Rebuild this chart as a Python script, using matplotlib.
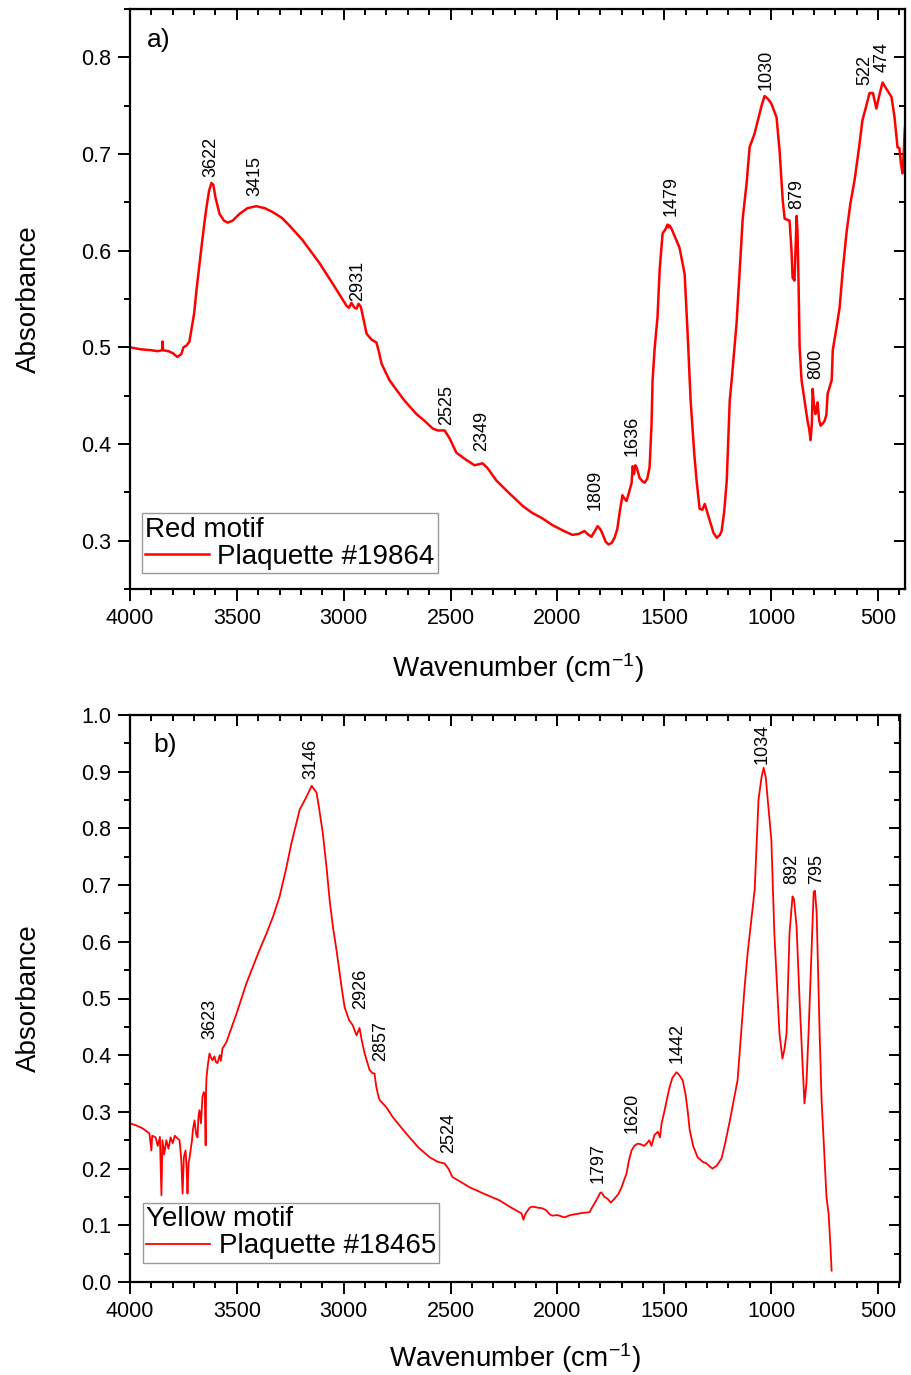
import matplotlib
matplotlib.use("Agg")
import matplotlib.pyplot as plt
from matplotlib.ticker import MultipleLocator, NullFormatter

plt.rcParams['font.family'] = ['Liberation Sans', 'DejaVu Sans']
plt.rcParams['mathtext.fontset'] = 'custom'
plt.rcParams['mathtext.rm'] = 'Liberation Sans'
plt.rcParams['mathtext.it'] = 'Liberation Sans'
plt.rcParams['mathtext.default'] = 'regular'

# ---------------- Data: panel a (Red motif, Plaquette #19864) ----------------
wn_a = [4000, 3950, 3900, 3870, 3850, 3848, 3845, 3820, 3800, 3778, 3760, 3750, 3735, 3722,
        3700, 3689, 3666, 3650, 3642, 3630, 3619, 3610, 3600, 3581, 3560, 3543, 3520, 3488,
        3450, 3409, 3370, 3333, 3290, 3254, 3193, 3150, 3113, 3052, 2987, 2975, 2964, 2950,
        2940, 2931, 2920, 2893, 2870, 2847, 2835, 2823, 2786, 2750, 2716, 2660, 2622, 2584,
        2560, 2528, 2505, 2473, 2430, 2388, 2350, 2327, 2285, 2230, 2163, 2120, 2070, 2023,
        1970, 1930, 1900, 1874, 1860, 1841, 1825, 1812, 1800, 1789, 1775, 1761, 1745, 1733,
        1720, 1710, 1696, 1688, 1677, 1665, 1653, 1648, 1642, 1636, 1630, 1616, 1600, 1592,
        1580, 1569, 1560, 1555, 1545, 1532, 1522, 1508, 1495, 1485, 1479, 1475, 1465, 1450,
        1429, 1405, 1391, 1381, 1377, 1360, 1349, 1335, 1322, 1311, 1300, 1288, 1270, 1255,
        1240, 1232, 1220, 1208, 1194, 1185, 1162, 1133, 1115, 1101, 1078, 1060, 1045, 1031,
        1015, 999, 975, 961, 946, 937, 925, 914, 905, 900, 891, 885, 881, 877, 872, 867, 858,
        844, 830, 822, 816, 810, 806, 800, 793, 788, 783, 776, 769, 760, 750, 742, 736, 717,
        712, 694, 680, 665, 648, 630, 610, 590, 573, 555, 540, 524, 516, 508, 495, 479, 460,
        437, 423, 409, 400, 393, 386, 380, 376, 370]
abs_a = [0.500, 0.498, 0.497, 0.496, 0.497, 0.506, 0.497, 0.496, 0.494, 0.490, 0.493, 0.500,
         0.502, 0.506, 0.535, 0.559, 0.603, 0.632, 0.645, 0.662, 0.670, 0.668, 0.655, 0.638,
         0.631, 0.629, 0.631, 0.638, 0.644, 0.646, 0.644, 0.640, 0.634, 0.626, 0.611, 0.598,
         0.587, 0.566, 0.543, 0.541, 0.546, 0.541, 0.540, 0.545, 0.542, 0.514, 0.508, 0.505,
         0.495, 0.483, 0.466, 0.455, 0.445, 0.431, 0.424, 0.416, 0.414, 0.414, 0.406, 0.391,
         0.384, 0.378, 0.380, 0.375, 0.362, 0.350, 0.336, 0.329, 0.323, 0.316, 0.310, 0.306,
         0.307, 0.310, 0.307, 0.304, 0.310, 0.315, 0.312, 0.307, 0.299, 0.296, 0.298, 0.303,
         0.312, 0.328, 0.347, 0.344, 0.341, 0.350, 0.360, 0.377, 0.369, 0.378, 0.376, 0.365,
         0.361, 0.360, 0.364, 0.376, 0.420, 0.466, 0.500, 0.531, 0.580, 0.618, 0.622, 0.627,
         0.624, 0.626, 0.622, 0.614, 0.603, 0.576, 0.514, 0.466, 0.445, 0.390, 0.362, 0.333,
         0.332, 0.338, 0.330, 0.321, 0.308, 0.303, 0.306, 0.310, 0.330, 0.362, 0.445, 0.466,
         0.525, 0.634, 0.670, 0.707, 0.721, 0.737, 0.750, 0.760, 0.757, 0.752, 0.738, 0.704,
         0.652, 0.633, 0.632, 0.631, 0.600, 0.572, 0.569, 0.610, 0.636, 0.620, 0.566, 0.500,
         0.466, 0.445, 0.424, 0.415, 0.404, 0.420, 0.457, 0.440, 0.431, 0.438, 0.443, 0.425,
         0.419, 0.421, 0.424, 0.430, 0.452, 0.466, 0.497, 0.521, 0.541, 0.580, 0.618, 0.648,
         0.673, 0.705, 0.735, 0.750, 0.763, 0.763, 0.755, 0.747, 0.760, 0.774, 0.767, 0.759,
         0.738, 0.707, 0.706, 0.690, 0.680, 0.700, 0.721, 0.740]

peaks_a = ["3622", "3415", "2931", "2525", "2349", "1809", "1636", "1479", "1030", "879", "800", "522", "474"]
peak_x_a = [3622, 3417, 2935, 2519, 2355, 1826, 1653, 1466, 1022, 881, 792, 563, 479]
peak_y_a = [0.676, 0.657, 0.548, 0.420, 0.393, 0.332, 0.388, 0.636, 0.766, 0.643, 0.467, 0.771, 0.785]

# ---------------- Data: panel b (Yellow motif, Plaquette #18465) ----------------
wn_b = [4000, 3970, 3941, 3920, 3909, 3900, 3896, 3880, 3870, 3860, 3853, 3848, 3840, 3830,
        3820, 3810, 3800, 3790, 3783, 3768, 3760, 3754, 3748, 3740, 3735, 3731, 3726, 3721,
        3710, 3705, 3698, 3690, 3684, 3680, 3675, 3668, 3661, 3655, 3650, 3646, 3644, 3642,
        3635, 3628, 3620, 3614, 3605, 3598, 3591, 3580, 3575, 3567, 3549, 3500, 3455, 3400,
        3361, 3330, 3300, 3270, 3244, 3206, 3174, 3150, 3127, 3115, 3098, 3080, 3066, 3050,
        3034, 3010, 2996, 2975, 2958, 2940, 2926, 2915, 2902, 2879, 2865, 2856, 2848, 2841,
        2832, 2800, 2771, 2730, 2692, 2650, 2598, 2560, 2528, 2510, 2491, 2450, 2411, 2340,
        2271, 2220, 2168, 2159, 2150, 2130, 2117, 2090, 2070, 2051, 2035, 2023, 2000, 1967,
        1940, 1911, 1880, 1850, 1840, 1818, 1800, 1794, 1780, 1766, 1750, 1733, 1715, 1700,
        1677, 1665, 1653, 1640, 1625, 1610, 1595, 1583, 1570, 1560, 1546, 1530, 1520, 1513,
        1500, 1489, 1475, 1462, 1443, 1430, 1414, 1400, 1390, 1381, 1365, 1344, 1320, 1302,
        1285, 1274, 1255, 1232, 1215, 1194, 1175, 1157, 1140, 1124, 1110, 1091, 1077, 1068,
        1059, 1045, 1035, 1025, 1016, 999, 985, 961, 947, 938, 928, 914, 900, 893, 881, 867,
        855, 844, 835, 825, 811, 801, 795, 787, 773, 764, 759, 741, 731, 722, 717]
abs_b = [0.280, 0.276, 0.271, 0.265, 0.262, 0.232, 0.258, 0.255, 0.240, 0.256, 0.153, 0.250,
         0.225, 0.250, 0.235, 0.255, 0.245, 0.258, 0.255, 0.250, 0.215, 0.156, 0.220, 0.232,
         0.200, 0.156, 0.210, 0.220, 0.250, 0.270, 0.285, 0.260, 0.255, 0.290, 0.303, 0.280,
         0.326, 0.335, 0.330, 0.241, 0.340, 0.361, 0.385, 0.403, 0.395, 0.391, 0.398, 0.388,
         0.386, 0.400, 0.390, 0.412, 0.423, 0.475, 0.527, 0.580, 0.615, 0.645, 0.680, 0.728,
         0.775, 0.833, 0.856, 0.875, 0.863, 0.835, 0.792, 0.730, 0.674, 0.625, 0.586, 0.520,
         0.485, 0.462, 0.453, 0.435, 0.448, 0.425, 0.403, 0.374, 0.368, 0.368, 0.345, 0.333,
         0.321, 0.308, 0.291, 0.272, 0.255, 0.237, 0.220, 0.212, 0.209, 0.200, 0.185, 0.176,
         0.167, 0.155, 0.144, 0.132, 0.121, 0.110, 0.120, 0.131, 0.133, 0.131, 0.130, 0.126,
         0.119, 0.117, 0.118, 0.114, 0.118, 0.120, 0.122, 0.123, 0.130, 0.144, 0.157, 0.158,
         0.150, 0.147, 0.140, 0.147, 0.155, 0.167, 0.191, 0.215, 0.232, 0.240, 0.244, 0.243,
         0.240, 0.244, 0.250, 0.240, 0.259, 0.265, 0.255, 0.279, 0.300, 0.320, 0.344, 0.360,
         0.370, 0.365, 0.356, 0.330, 0.300, 0.268, 0.240, 0.220, 0.212, 0.209, 0.203, 0.200,
         0.205, 0.218, 0.245, 0.283, 0.320, 0.356, 0.440, 0.521, 0.580, 0.644, 0.692, 0.770,
         0.851, 0.890, 0.907, 0.890, 0.851, 0.780, 0.615, 0.438, 0.394, 0.410, 0.438, 0.615,
         0.680, 0.675, 0.627, 0.498, 0.400, 0.315, 0.350, 0.438, 0.586, 0.688, 0.690, 0.651,
         0.438, 0.321, 0.285, 0.150, 0.120, 0.060, 0.020]

peaks_b = ["3623", "3146", "2926", "2857", "2524", "1797", "1620", "1442", "1034", "892", "795"]
peak_x_b = [3628, 3155, 2921, 2828, 2510, 1808, 1649, 1442, 1040, 905, 787]
peak_y_b = [0.428, 0.887, 0.481, 0.389, 0.227, 0.174, 0.262, 0.386, 0.914, 0.702, 0.702]

RED = '#ff0000'

fig = plt.figure(figsize=(9.11, 13.75), dpi=100)
W, H = 911, 1375


def make_axes(px_left, px_right, py_top, py_bottom):
    return fig.add_axes([px_left / W, 1 - py_bottom / H,
                         (px_right - px_left) / W, (py_bottom - py_top) / H])


def style_axes(ax, xlim, ylim, ymajor, yminor):
    ax.set_xlim(*xlim)
    ax.set_ylim(*ylim)
    ax.xaxis.set_major_locator(MultipleLocator(500))
    ax.xaxis.set_minor_locator(MultipleLocator(100))
    ax.yaxis.set_major_locator(MultipleLocator(ymajor))
    ax.yaxis.set_minor_locator(MultipleLocator(yminor))
    for s in ax.spines.values():
        s.set_linewidth(1.6)
    ax.tick_params(which='major', direction='out', length=8.5, width=1.4, labelsize=15.5, pad=5)
    ax.tick_params(which='minor', direction='out', length=4.5, width=1.4)
    # inward ticks on top and right
    sx = ax.secondary_xaxis('top')
    sx.xaxis.set_major_locator(MultipleLocator(500))
    sx.xaxis.set_minor_locator(MultipleLocator(100))
    sx.xaxis.set_major_formatter(NullFormatter())
    sx.tick_params(which='major', direction='in', length=8, width=1.4)
    sx.tick_params(which='minor', direction='in', length=4.5, width=1.4)
    sy = ax.secondary_yaxis('right')
    sy.yaxis.set_major_locator(MultipleLocator(ymajor))
    sy.yaxis.set_minor_locator(MultipleLocator(yminor))
    sy.yaxis.set_major_formatter(NullFormatter())
    sy.tick_params(which='major', direction='in', length=8, width=1.4)
    sy.tick_params(which='minor', direction='in', length=4.5, width=1.4)
    ax.set_xlabel('Wavenumber (cm$^{-1}$)', fontsize=20)
    ax.set_ylabel('Absorbance', fontsize=20)


def yfmt(v, pos):
    return f'{v:.1f}'


LEG_KW = dict(loc='lower left', fontsize=20, title_fontsize=20, frameon=True,
              fancybox=False, edgecolor='#808080', borderpad=0.12, labelspacing=0.05,
              handlelength=2.3, handletextpad=0.3, borderaxespad=0, alignment='left')

# ---------------- Panel a ----------------
ax1 = make_axes(130, 905, 9, 589)
ax1.plot(wn_a, abs_a, color=RED, lw=1.8, label='Plaquette #19864')
style_axes(ax1, (4000, 374), (0.25, 0.85), 0.1, 0.05)
ax1.yaxis.set_major_formatter(plt.FuncFormatter(yfmt))
ax1.xaxis.set_label_coords(0.5, -0.107)
ax1.yaxis.set_label_coords(-0.113, 0.5)
for t, x, y in zip(peaks_a, peak_x_a, peak_y_a):
    ax1.text(x, y, t, rotation=90, ha='center', va='bottom', fontsize=13)
ax1.text(0.022, 0.968, 'a)', transform=ax1.transAxes, ha='left', va='top', fontsize=19)
leg1 = ax1.legend(title='Red motif', bbox_to_anchor=(0.015, 0.027), **LEG_KW)
leg1.get_frame().set_linewidth(1.0)

# ---------------- Panel b ----------------
ax2 = make_axes(130, 900, 715, 1282)
ax2.plot(wn_b, abs_b, color=RED, lw=1.3, label='Plaquette #18465')
style_axes(ax2, (4000, 397), (0.0, 1.0), 0.1, 0.05)
ax2.yaxis.set_major_formatter(plt.FuncFormatter(yfmt))
ax2.xaxis.set_label_coords(0.5, -0.104)
ax2.yaxis.set_label_coords(-0.115, 0.5)
for t, x, y in zip(peaks_b, peak_x_b, peak_y_b):
    ax2.text(x, y, t, rotation=90, ha='center', va='bottom', fontsize=13)
ax2.text(0.03, 0.968, 'b)', transform=ax2.transAxes, ha='left', va='top', fontsize=19)
leg2 = ax2.legend(title='Yellow motif', bbox_to_anchor=(0.017, 0.034), **LEG_KW)
leg2.get_frame().set_linewidth(1.0)

fig.savefig('out.png', dpi=100)
